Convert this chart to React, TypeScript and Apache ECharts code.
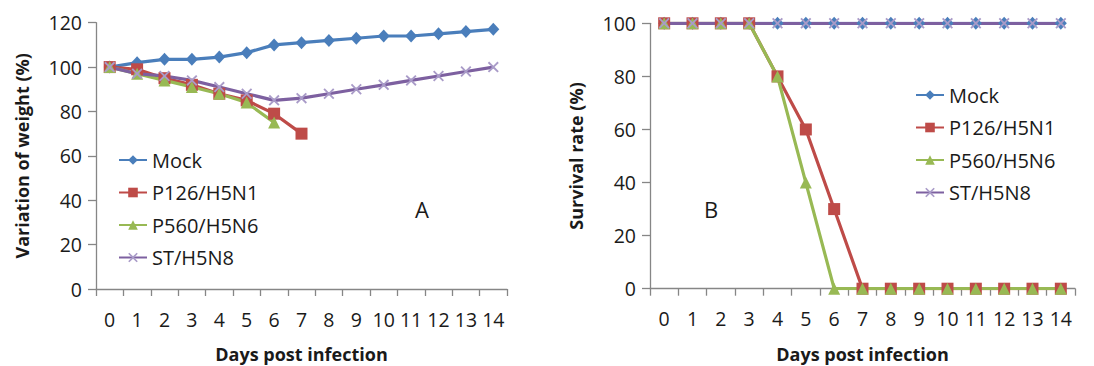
import React, { useEffect, useRef } from "react";
import * as echarts from "echarts";

const days = ["0", "1", "2", "3", "4", "5", "6", "7", "8", "9", "10", "11", "12", "13", "14"];
const seriesNames = ["Mock", "P126/H5N1", "P560/H5N6", "ST/H5N8"];

// Panel A: variation of weight (%)
const weightMock = [100, 102, 103.5, 103.5, 104.5, 106.5, 110, 111, 112, 113, 114, 114, 115, 116, 117];
const weightP126 = [100, 99, 95, 92, 88, 85, 79, 70];
const weightP560 = [100, 97, 94, 91, 88, 84, 75];
const weightST = [100, 97, 96, 94, 91, 88, 85, 86, 88, 90, 92, 94, 96, 98, 100];

// Panel B: survival rate (%)
const survMock = [100, 100, 100, 100, 100, 100, 100, 100, 100, 100, 100, 100, 100, 100, 100];
const survP126 = [100, 100, 100, 100, 80, 60, 30, 0, 0, 0, 0, 0, 0, 0, 0];
const survP560 = [100, 100, 100, 100, 80, 40, 0, 0, 0, 0, 0, 0, 0, 0, 0];
const survST = [100, 100, 100, 100, 100, 100, 100, 100, 100, 100, 100, 100, 100, 100, 100];

const weightTicks = { min: 0, max: 120, interval: 20 };
const survTicks = { min: 0, max: 100, interval: 20 };

const FONT = "'Open Sans', 'DejaVu Sans', sans-serif";
const colors = ["#4A7EBB", "#BE4B48", "#98B954", "#7D60A0"];
const crossPath =
  "path://M0,1.2L1.2,0L5,3.8L8.8,0L10,1.2L6.2,5L10,8.8L8.8,10L5,6.2L1.2,10L0,8.8L3.8,5Z";

function makeSeries(data: number[][], axis: number) {
  const symbols = ["diamond", "rect", "triangle", crossPath];
  const sizes: any[] = [[12, 13], 12, 12, 11];
  const symColors = ["#4A7EBB", "#BE4B48", "#98B954", "#A99BC8"];
  return data.map((d, i) => ({
    name: seriesNames[i],
    type: "line",
    xAxisIndex: axis,
    yAxisIndex: axis,
    data: d,
    symbol: symbols[i],
    symbolSize: sizes[i],
    showAllSymbol: true,
    lineStyle: { color: colors[i], width: 3.2 },
    itemStyle: { color: symColors[i] },
    emphasis: { disabled: true },
  }));
}

export default function App() {
  const ref = useRef<HTMLDivElement>(null);
  useEffect(() => {
    if (!ref.current) return;
    const chart = echarts.init(ref.current, undefined, { renderer: "svg" });
    const axisLine = { lineStyle: { color: "#868686", width: 1.3 } };
    const xAxisCommon = {
      type: "category",
      data: days,
      boundaryGap: true,
      axisLine,
      axisTick: { show: true, inside: false, length: 7, lineStyle: { color: "#868686", width: 1.3 } },
      axisLabel: { color: "#1a1a1a", fontSize: 19.5, fontFamily: FONT, margin: 20, interval: 0 },
      name: "Days post infection",
      nameLocation: "middle",
      nameGap: 56,
      nameTextStyle: { color: "#1a1a1a", fontSize: 18, fontWeight: "bold", fontFamily: FONT },
      splitLine: { show: false },
    };
    const yAxisCommon = {
      type: "value",
      axisLine: { show: true, ...axisLine },
      axisTick: { show: true, length: 8, lineStyle: { color: "#868686", width: 1.3 } },
      axisLabel: { color: "#1a1a1a", fontSize: 19.5, fontFamily: FONT, margin: 14 },
      splitLine: { show: false },
      nameLocation: "middle",
      nameTextStyle: { color: "#1a1a1a", fontSize: 18, fontWeight: "bold", fontFamily: FONT },
    };
    const legendCommon = {
      orient: "vertical",
      itemWidth: 28,
      itemHeight: 12,
      itemGap: 12.5,
      textStyle: { fontSize: 20, fontFamily: FONT, color: "#1a1a1a", lineHeight: 20 },
      data: seriesNames,
      selectedMode: false,
    };
    chart.setOption({
      animation: false,
      backgroundColor: "#ffffff",
      grid: [
        { left: 96, top: 22.7, width: 411, height: 266.3, outerBoundsMode: "none", containLabel: false },
        { left: 650, top: 23.3, width: 425, height: 265.4, outerBoundsMode: "none", containLabel: false },
      ],
      xAxis: [
        { ...xAxisCommon, gridIndex: 0 },
        { ...xAxisCommon, gridIndex: 1 },
      ],
      yAxis: [
        { ...yAxisCommon, gridIndex: 0, ...weightTicks, name: "Variation of weight (%)", nameGap: 65 },
        { ...yAxisCommon, gridIndex: 1, ...survTicks, name: "Survival rate (%)", nameGap: 65 },
      ],
      legend: [
        { ...legendCommon, left: 113, top: 145 },
        { ...legendCommon, left: 910, top: 80 },
      ],
      graphic: [
        {
          type: "text",
          left: 415,
          top: 198,
          style: { text: "A", fontSize: 22, fontFamily: FONT, fill: "#1a1a1a" },
        },
        {
          type: "text",
          left: 704,
          top: 198,
          style: { text: "B", fontSize: 22, fontFamily: FONT, fill: "#1a1a1a" },
        },
      ],
      series: [
        ...makeSeries([weightMock, weightP126, weightP560, weightST], 0),
        ...makeSeries([survMock, survP126, survP560, survST], 1),
      ],
    });
    return () => chart.dispose();
  }, []);
  return (
    <div
      ref={ref}
      style={{ position: "fixed", left: 0, top: 0, width: 1094, height: 366, background: "#fff" }}
    />
  );
}
